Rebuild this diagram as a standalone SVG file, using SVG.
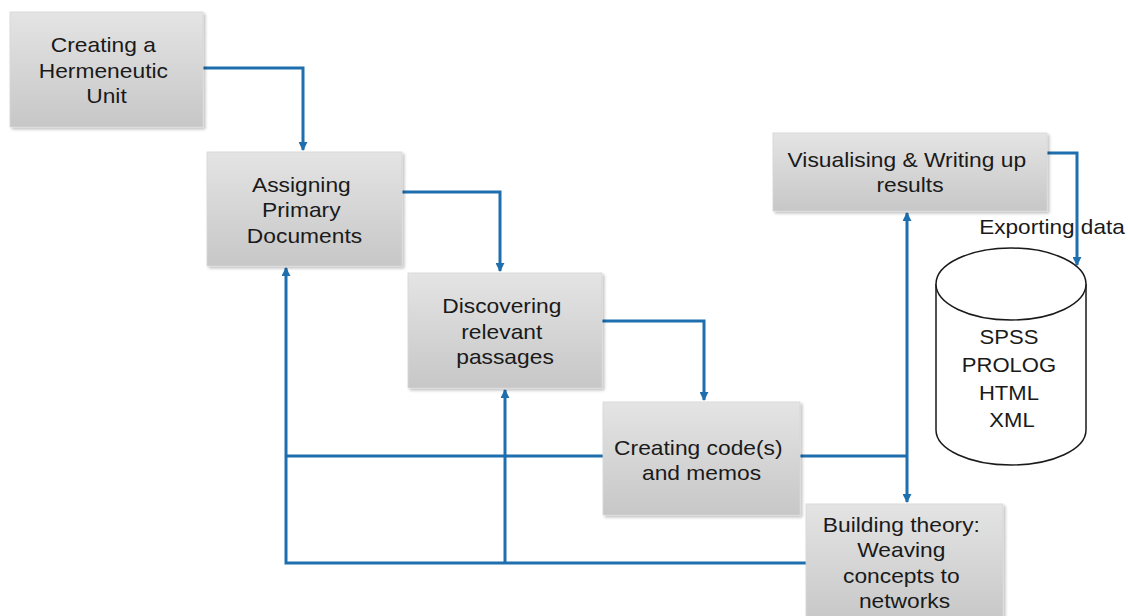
<svg xmlns="http://www.w3.org/2000/svg" width="1128" height="616" viewBox="0 0 1128 616">
  <defs>
    <linearGradient id="boxFill" x1="0" y1="0" x2="0" y2="1">
      <stop offset="0" stop-color="#e4e4e4"/>
      <stop offset="1" stop-color="#c7c7c7"/>
    </linearGradient>
    <filter id="shadow" x="-5%" y="-5%" width="115%" height="120%">
      <feGaussianBlur in="SourceAlpha" stdDeviation="1.5"/>
      <feOffset dx="1.5" dy="1.5" result="b"/>
      <feComponentTransfer><feFuncA type="linear" slope="0.25"/></feComponentTransfer>
      <feMerge><feMergeNode/><feMergeNode in="SourceGraphic"/></feMerge>
    </filter>
    <marker id="arrow" viewBox="0 0 10 10" refX="9" refY="5" markerWidth="9" markerHeight="9" markerUnits="userSpaceOnUse" orient="auto">
      <path d="M0,0 L10,5 L0,10 z" fill="#1f6fae"/>
    </marker>
  </defs>
  <style>
    .box { fill: url(#boxFill); stroke: #d6d6d6; stroke-width: 0.8; filter: url(#shadow); }
    .lbl { font-family: "Liberation Sans", Arial, sans-serif; font-size: 20px; fill: #1a1a1a; text-anchor: middle; }
    .cyl { font-family: "Liberation Sans", Arial, sans-serif; font-size: 21px; fill: #1a1a1a; text-anchor: middle; }
    .conn { fill: none; stroke: #1f6fae; stroke-width: 3; }
    .shape { fill: #ffffff; stroke: #1a1a1a; stroke-width: 1.5; }
  </style>
  <rect width="1128" height="616" fill="#ffffff"/>

  <g id="connectors">
    <path class="conn" d="M203,68 H303 V150" marker-end="url(#arrow)"/>
    <path class="conn" d="M402,192 H500 V271" marker-end="url(#arrow)"/>
    <path class="conn" d="M602,321 H704 V400" marker-end="url(#arrow)"/>
    <path class="conn" d="M1047,153 H1077 V265" marker-end="url(#arrow)"/>
    <path class="conn" d="M603,456 H286"/>
    <path class="conn" d="M806,563 H286 V268" marker-end="url(#arrow)"/>
    <path class="conn" d="M505,563 V390" marker-end="url(#arrow)"/>
    <path class="conn" d="M800,456 H907"/>
    <path class="conn" d="M907,456 V213" marker-end="url(#arrow)"/>
    <path class="conn" d="M907,456 V502" marker-end="url(#arrow)"/>
  </g>

  <g id="node-hermeneutic-unit">
    <rect class="box" x="10" y="12" width="193" height="115"/>
    <text class="lbl" transform="translate(106.5,0) scale(1.14,1)">
      <tspan x="0" y="52">Creating a</tspan>
      <tspan x="0" y="78">Hermeneutic</tspan>
      <tspan x="0" y="103">Unit</tspan>
    </text>
  </g>

  <g id="node-primary-documents">
    <rect class="box" x="207" y="152" width="195" height="114"/>
    <text class="lbl" transform="translate(304.5,0) scale(1.14,1)">
      <tspan x="0" y="192">Assigning</tspan>
      <tspan x="0" y="217">Primary</tspan>
      <tspan x="0" y="243">Documents</tspan>
    </text>
  </g>

  <g id="node-relevant-passages">
    <rect class="box" x="408" y="273" width="194" height="115"/>
    <text class="lbl" transform="translate(505,0) scale(1.14,1)">
      <tspan x="0" y="313">Discovering</tspan>
      <tspan x="0" y="339">relevant</tspan>
      <tspan x="0" y="364">passages</tspan>
    </text>
  </g>

  <g id="node-codes-memos">
    <rect class="box" x="603" y="402" width="197" height="113"/>
    <text class="lbl" transform="translate(701.5,0) scale(1.14,1)">
      <tspan x="0" y="455">Creating code(s)</tspan>
      <tspan x="0" y="480">and memos</tspan>
    </text>
  </g>

  <g id="node-visualising">
    <rect class="box" x="773" y="133" width="274" height="78"/>
    <text class="lbl" transform="translate(910,0) scale(1.14,1)">
      <tspan x="0" y="167">Visualising &amp; Writing up</tspan>
      <tspan x="0" y="192">results</tspan>
    </text>
  </g>

  <g id="node-building-theory">
    <rect class="box" x="806" y="504" width="197" height="120"/>
    <text class="lbl" transform="translate(904.5,0) scale(1.14,1)">
      <tspan x="0" y="532">Building theory:</tspan>
      <tspan x="0" y="557">Weaving</tspan>
      <tspan x="0" y="583">concepts to</tspan>
      <tspan x="0" y="608">networks</tspan>
    </text>
  </g>

  <g id="node-export-database">
    <path class="shape" d="M936,284 V430 A75,35 0 0 0 1086,430 V284"/>
    <ellipse class="shape" cx="1011" cy="284" rx="75" ry="36"/>
    <text class="cyl" transform="translate(1012,0) scale(1.05,1)">
      <tspan x="0" y="344">SPSS</tspan>
      <tspan x="0" y="372">PROLOG</tspan>
      <tspan x="0" y="400">HTML</tspan>
      <tspan x="0" y="427">XML</tspan>
    </text>
  </g>

  <g id="label-exporting-data">
    <text class="lbl" transform="translate(1052,0) scale(1.13,1)">
      <tspan x="0" y="234">Exporting data</tspan>
    </text>
  </g>
</svg>
